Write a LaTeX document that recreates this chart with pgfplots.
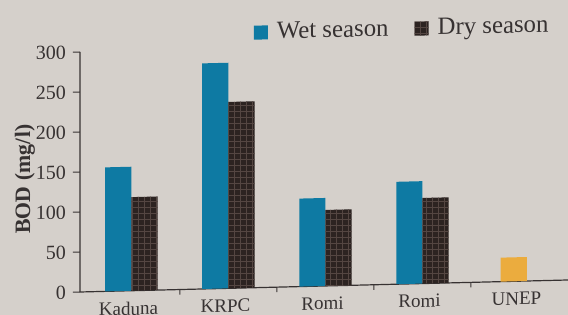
\documentclass[border=0pt]{standalone}
\usepackage{fontspec}
\setmainfont{Liberation Serif}
\usepackage{pgfplots}
\pgfplotsset{compat=1.18}
\usetikzlibrary{patterns,backgrounds}
\definecolor{bgcol}{RGB}{213,208,203}
\definecolor{wetc}{RGB}{14,122,163}
\definecolor{dryc}{RGB}{44,35,33}
\definecolor{gridc}{RGB}{84,70,66}
\definecolor{unepc}{RGB}{235,172,62}
\definecolor{txt}{RGB}{55,50,50}

\begin{document}
\begin{tikzpicture}
\begin{scope}[yslant=0.0246]
\begin{axis}[
  scale only axis, width=244pt, height=120pt,
  xmin=-0.53, xmax=4.5, ymin=0, ymax=300,
  axis lines=left, axis line style={-, draw=txt, line width=0.6pt},
  tick align=outside, major tick length=3.5pt,
  tick style={draw=txt, line width=0.5pt},
  /pgf/number format/assume math mode=true,
  ytick={0,50,...,300},
  yticklabel style={font=\fontsize{10}{11}\selectfont, text=txt},
  xtick={0.5,1.5,2.5,3.5}, xticklabels={},
  x tick style={/pgfplots/major tick length=2.5pt},
  extra x ticks={0,1,2,3,4},
  extra x tick labels={{Kaduna\\River},{KRPC\\Effluent},{Romi\\Upstream},{Romi\\Downstream},{UNEP}},
  extra x tick style={tick style={draw=none}},
  xticklabel style={align=center, font=\fontsize{9.5}{10.5}\selectfont, text=txt, xshift=-1.5pt, yshift=1.5pt},
  ylabel={BOD (mg/l)},
  ylabel style={at={(axis description cs:-0.113,0.475)}, anchor=center, font=\fontsize{11}{12}\selectfont\bfseries, text=txt},
  legend style={draw=none, fill=none, font=\fontsize{12.4}{14}\selectfont, text=txt,
    legend columns=2, at={(rel axis cs:0.967,1)}, anchor=south east, xshift=3.5pt, yshift=-1.5pt,
    /tikz/every odd column/.append style={column sep=2.5pt},
    /tikz/every even column/.append style={column sep=11pt}},
  legend image code/.code={\fill[#1] (0pt,-3.5pt) rectangle (7pt,3.5pt);},
  clip=false,
]
\addplot[ybar, bar width=0.27, bar shift=-0.135, fill=wetc, draw=none]
  coordinates {(0,155) (1,282) (2,110) (3,128)};
\addlegendentry{Wet season}
\addplot[ybar, bar width=0.27, bar shift=0.135, fill=dryc, draw=none,
  postaction={pattern=grid, pattern color=gridc}]
  coordinates {(0,117) (1,233) (2,95) (3,107)};
\addlegendentry{Dry season}
\addplot[ybar, bar width=0.27, bar shift=-0.06, fill=unepc, draw=none, forget plot]
  coordinates {(4,30)};
\end{axis}
\end{scope}
\begin{pgfonlayer}{background}
\fill[bgcol] (-40pt,-11.5pt) rectangle (244pt,146pt);
\end{pgfonlayer}
\pgfresetboundingbox
\path (-40pt,-11.5pt) rectangle (244pt,146pt);
\end{tikzpicture}
\end{document}
